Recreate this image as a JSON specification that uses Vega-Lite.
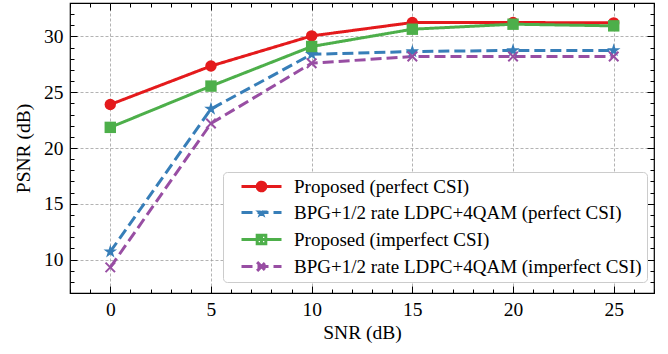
{
  "$schema": "https://vega.github.io/schema/vega-lite/v6.json",
  "width": 584,
  "height": 290,
  "autosize": {"type": "none"},
  "padding": {"left": 70, "top": 3, "right": 14, "bottom": 61},
  "background": "white",
  "config": {
    "font": "Liberation Serif",
    "view": {"stroke": "black", "strokeWidth": 1.2},
    "axis": {"domain": false, "labelColor": "black", "titleColor": "black", "labelFontSize": 19.5, "titleFontSize": 19.5, "titleFontWeight": "normal", "labelFont": "Liberation Serif", "titleFont": "Liberation Serif", "tickColor": "black", "tickWidth": 1, "offset": 0},
    "legend": {"title": null, "orient": "none", "legendX": 153, "legendY": 169, "labelFontSize": 19, "labelColor": "black", "labelFont": "Liberation Serif", "labelLimit": 700, "symbolSize": 256, "symbolStrokeWidth": 3, "symbolFillColor": "transparent", "rowPadding": 6, "padding": 5, "symbolOffset": 24, "labelOffset": 23, "fillColor": "white", "strokeColor": "#cccccc", "cornerRadius": 4}
  },
  "data": {
    "values": [
      {"snr": 0, "psnr": 23.9, "method": "Proposed (perfect CSI)"},
      {"snr": 5, "psnr": 27.35, "method": "Proposed (perfect CSI)"},
      {"snr": 10, "psnr": 30.05, "method": "Proposed (perfect CSI)"},
      {"snr": 15, "psnr": 31.25, "method": "Proposed (perfect CSI)"},
      {"snr": 20, "psnr": 31.25, "method": "Proposed (perfect CSI)"},
      {"snr": 25, "psnr": 31.22, "method": "Proposed (perfect CSI)"},
      {"snr": 0, "psnr": 10.7, "method": "BPG+1/2 rate LDPC+4QAM (perfect CSI)"},
      {"snr": 5, "psnr": 23.5, "method": "BPG+1/2 rate LDPC+4QAM (perfect CSI)"},
      {"snr": 10, "psnr": 28.4, "method": "BPG+1/2 rate LDPC+4QAM (perfect CSI)"},
      {"snr": 15, "psnr": 28.65, "method": "BPG+1/2 rate LDPC+4QAM (perfect CSI)"},
      {"snr": 20, "psnr": 28.75, "method": "BPG+1/2 rate LDPC+4QAM (perfect CSI)"},
      {"snr": 25, "psnr": 28.75, "method": "BPG+1/2 rate LDPC+4QAM (perfect CSI)"},
      {"snr": 0, "psnr": 21.85, "method": "Proposed (imperfect CSI)"},
      {"snr": 5, "psnr": 25.55, "method": "Proposed (imperfect CSI)"},
      {"snr": 10, "psnr": 29.1, "method": "Proposed (imperfect CSI)"},
      {"snr": 15, "psnr": 30.65, "method": "Proposed (imperfect CSI)"},
      {"snr": 20, "psnr": 31.1, "method": "Proposed (imperfect CSI)"},
      {"snr": 25, "psnr": 30.95, "method": "Proposed (imperfect CSI)"},
      {"snr": 0, "psnr": 9.3, "method": "BPG+1/2 rate LDPC+4QAM (imperfect CSI)"},
      {"snr": 5, "psnr": 22.2, "method": "BPG+1/2 rate LDPC+4QAM (imperfect CSI)"},
      {"snr": 10, "psnr": 27.6, "method": "BPG+1/2 rate LDPC+4QAM (imperfect CSI)"},
      {"snr": 15, "psnr": 28.2, "method": "BPG+1/2 rate LDPC+4QAM (imperfect CSI)"},
      {"snr": 20, "psnr": 28.2, "method": "BPG+1/2 rate LDPC+4QAM (imperfect CSI)"},
      {"snr": 25, "psnr": 28.2, "method": "BPG+1/2 rate LDPC+4QAM (imperfect CSI)"}
    ]
  },
  "resolve": {"axis": {"x": "independent", "y": "independent"}},
  "layer": [
    {
      "mark": {"type": "line", "strokeWidth": 3, "clip": true},
      "encoding": {
        "x": {"field": "snr", "type": "quantitative", "scale": {"domain": [-2, 27], "nice": false, "zero": false},
          "axis": {"orient": "bottom", "offset": 0, "title": "SNR (dB)", "values": [0, 5, 10, 15, 20, 25], "ticks": false, "labelPadding": 7, "titlePadding": 5, "labelFont": "Liberation Serif", "titleFont": "Liberation Serif", "labelFontSize": 19.5, "titleFontSize": 19.5, "grid": true, "gridColor": "#a0a0a0", "gridDash": [3, 2], "gridWidth": 0.8}},
        "y": {"field": "psnr", "type": "quantitative", "scale": {"domain": [7, 33], "nice": false, "zero": false},
          "axis": {"orient": "left", "offset": 0, "title": "PSNR (dB)", "values": [10, 15, 20, 25, 30], "ticks": false, "labelPadding": 7, "titlePadding": 10, "labelFont": "Liberation Serif", "titleFont": "Liberation Serif", "labelFontSize": 19.5, "titleFontSize": 19.5, "grid": true, "gridColor": "#a0a0a0", "gridDash": [3, 2], "gridWidth": 0.8}},
        "color": {"field": "method", "type": "nominal",
          "scale": {"domain": ["Proposed (perfect CSI)", "BPG+1/2 rate LDPC+4QAM (perfect CSI)", "Proposed (imperfect CSI)", "BPG+1/2 rate LDPC+4QAM (imperfect CSI)"], "range": ["#e41a1c", "#377eb8", "#4daf4a", "#984ea3"]}},
        "strokeDash": {"field": "method", "type": "nominal",
          "scale": {"domain": ["Proposed (perfect CSI)", "BPG+1/2 rate LDPC+4QAM (perfect CSI)", "Proposed (imperfect CSI)", "BPG+1/2 rate LDPC+4QAM (imperfect CSI)"], "range": [[1, 0], [11, 5], [1, 0], [11, 5]]}}
      }
    },
    {
      "transform": [{"filter": "datum.method == 'Proposed (perfect CSI)'"}],
      "mark": {"type": "point", "shape": "circle", "filled": true, "size": 130, "color": "#e41a1c", "opacity": 1},
      "encoding": {
        "x": {"field": "snr", "type": "quantitative", "axis": null},
        "y": {"field": "psnr", "type": "quantitative", "axis": null}
      }
    },
    {
      "transform": [{"filter": "datum.method == 'BPG+1/2 rate LDPC+4QAM (perfect CSI)'"}],
      "mark": {"type": "point", "shape": "M0,-1.25L0.281,-0.386L1.189,-0.386L0.454,0.148L0.735,1.011L0,0.478L-0.735,1.011L-0.454,0.148L-1.189,-0.386L-0.281,-0.386Z", "filled": true, "size": 130, "color": "#377eb8", "opacity": 1},
      "encoding": {
        "x": {"field": "snr", "type": "quantitative", "axis": null},
        "y": {"field": "psnr", "type": "quantitative", "axis": null}
      }
    },
    {
      "transform": [{"filter": "datum.method == 'Proposed (imperfect CSI)'"}],
      "mark": {"type": "point", "shape": "square", "filled": true, "size": 130, "color": "#4daf4a", "opacity": 1},
      "encoding": {
        "x": {"field": "snr", "type": "quantitative", "axis": null},
        "y": {"field": "psnr", "type": "quantitative", "axis": null}
      }
    },
    {
      "transform": [{"filter": "datum.method == 'BPG+1/2 rate LDPC+4QAM (imperfect CSI)'"}],
      "mark": {"type": "point", "shape": "M-1,-1L1,1M-1,1L1,-1", "filled": false, "size": 90, "strokeWidth": 2, "color": "#984ea3", "opacity": 1},
      "encoding": {
        "x": {"field": "snr", "type": "quantitative", "axis": null},
        "y": {"field": "psnr", "type": "quantitative", "axis": null}
      }
    },
    {
      "transform": [{"filter": "datum.snr < -100"}],
      "mark": {"type": "point", "filled": false, "strokeWidth": 3, "opacity": 1},
      "encoding": {
        "color": {"field": "method", "type": "nominal"},
        "shape": {"field": "method", "type": "nominal",
          "scale": {"domain": ["Proposed (perfect CSI)", "BPG+1/2 rate LDPC+4QAM (perfect CSI)", "Proposed (imperfect CSI)", "BPG+1/2 rate LDPC+4QAM (imperfect CSI)"],
            "range": [
              "M-2.5,0H2.5M0.54,0A0.54,0.54 0 1,1 -0.54,0A0.54,0.54 0 1,1 0.54,0ZM0.1875,0A0.1875,0.1875 0 1,1 -0.1875,0A0.1875,0.1875 0 1,1 0.1875,0Z",
              "M-2.5,0H2.5M0,-0.22L0.0494,-0.068L0.2092,-0.068L0.0799,0.026L0.1294,0.178L0,0.084L-0.1294,0.178L-0.0799,0.026L-0.2092,-0.068L-0.0494,-0.068Z",
              "M-2.5,0H2.5M-0.54,-0.54H0.54V0.54H-0.54ZM-0.1875,-0.1875H0.1875V0.1875H-0.1875Z",
              "M-2.5,0H2.5M-0.55,-0.55L0.55,0.55M-0.55,0.55L0.55,-0.55"
            ]}},
        "strokeDash": {"field": "method", "type": "nominal"}
      }
    },
    {
      "mark": {"type": "point", "opacity": 0},
      "encoding": {
        "x": {"field": "snr", "type": "quantitative", "axis": {"orient": "top", "offset": 0, "values": [0, 5, 10, 15, 20, 25], "labels": false, "title": null, "grid": false, "tickSize": -7}},
        "y": {"field": "psnr", "type": "quantitative", "axis": {"orient": "right", "offset": 0, "values": [10, 15, 20, 25, 30], "labels": false, "title": null, "grid": false, "tickSize": -7}}
      }
    },
    {
      "mark": {"type": "point", "opacity": 0},
      "encoding": {
        "x": {"field": "snr", "type": "quantitative", "axis": {"orient": "bottom", "offset": 0, "values": [-2, -1, 0, 1, 2, 3, 4, 5, 6, 7, 8, 9, 10, 11, 12, 13, 14, 15, 16, 17, 18, 19, 20, 21, 22, 23, 24, 25, 26, 27], "labels": false, "title": null, "grid": false, "tickSize": -4}},
        "y": {"field": "psnr", "type": "quantitative", "axis": {"orient": "left", "offset": 0, "values": [7, 8, 9, 10, 11, 12, 13, 14, 15, 16, 17, 18, 19, 20, 21, 22, 23, 24, 25, 26, 27, 28, 29, 30, 31, 32, 33], "labels": false, "title": null, "grid": false, "tickSize": -4}}
      }
    },
    {
      "mark": {"type": "point", "opacity": 0},
      "encoding": {
        "x": {"field": "snr", "type": "quantitative", "axis": {"orient": "top", "offset": 0, "values": [-2, -1, 0, 1, 2, 3, 4, 5, 6, 7, 8, 9, 10, 11, 12, 13, 14, 15, 16, 17, 18, 19, 20, 21, 22, 23, 24, 25, 26, 27], "labels": false, "title": null, "grid": false, "tickSize": -4}},
        "y": {"field": "psnr", "type": "quantitative", "axis": {"orient": "right", "offset": 0, "values": [7, 8, 9, 10, 11, 12, 13, 14, 15, 16, 17, 18, 19, 20, 21, 22, 23, 24, 25, 26, 27, 28, 29, 30, 31, 32, 33], "labels": false, "title": null, "grid": false, "tickSize": -4}}
      }
    },
    {
      "mark": {"type": "point", "opacity": 0},
      "encoding": {
        "x": {"field": "snr", "type": "quantitative", "axis": {"orient": "bottom", "offset": 0, "values": [0, 5, 10, 15, 20, 25], "labels": false, "title": null, "grid": false, "tickSize": -7}},
        "y": {"field": "psnr", "type": "quantitative", "axis": {"orient": "left", "offset": 0, "values": [10, 15, 20, 25, 30], "labels": false, "title": null, "grid": false, "tickSize": -7}}
      }
    }
  ]
}
